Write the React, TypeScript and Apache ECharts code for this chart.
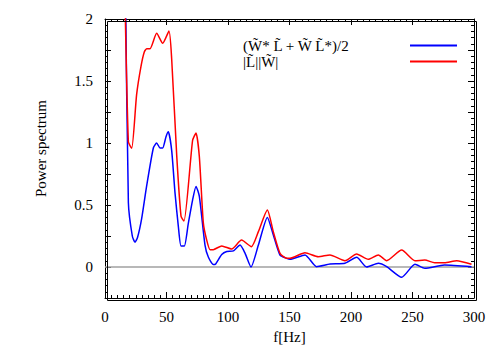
import React, { useEffect, useRef } from "react";
import * as echarts from "echarts";

const blueName = "(W\u0303* L\u0303 + W\u0303 L\u0303*)/2";
const redName = "|L\u0303||W\u0303|";

const freqBlue = [16.5, 19, 22.2, 24.4, 26.5, 29.8, 33.8, 39.3, 42, 44.7, 46.9, 49.6, 51.5, 54.2, 56.9, 59.6, 61.8, 64.5, 67.7, 71.2, 74, 76.7, 81.3, 84, 88, 90, 94.9, 99, 104.4, 109.8, 113.9, 118.7, 124.7, 132, 136.8, 142.3, 147.7, 150.4, 162.6, 172, 182.9, 195.1, 204.6, 212.7, 222.2, 229, 241.2, 252, 260, 276, 298];
const valBlue = [2.4, 0.52, 0.25, 0.2, 0.24, 0.39, 0.65, 0.96, 1.0, 0.96, 0.96, 1.05, 1.09, 0.94, 0.6, 0.33, 0.17, 0.17, 0.35, 0.54, 0.65, 0.57, 0.177, 0.08, 0.02, 0.025, 0.1, 0.125, 0.13, 0.177, 0.11, 0.0, 0.177, 0.4, 0.26, 0.096, 0.07, 0.062, 0.097, 0.003, 0.024, 0.03, 0.078, 0.0, 0.03, 0.003, -0.083, 0.022, -0.01, 0.016, 0.003];

const freqRed = [16, 19, 21.7, 25.7, 29.3, 32, 33.9, 36.6, 42, 46.9, 52, 54.2, 58.3, 61.8, 64.2, 71.2, 74, 76.7, 79.9, 82.6, 85.4, 88, 94.9, 103, 111, 119, 124.7, 132, 136.8, 142.3, 147.7, 150.4, 162.6, 173.4, 182.9, 195.1, 204.6, 214, 222.2, 229, 241.2, 252, 260, 268, 276, 286, 298];
const valRed = [2.3, 1.01, 0.957, 1.39, 1.62, 1.736, 1.76, 1.76, 1.885, 1.804, 1.903, 1.68, 0.9, 0.41, 0.37, 1.02, 1.08, 0.89, 0.36, 0.22, 0.14, 0.14, 0.17, 0.145, 0.217, 0.164, 0.285, 0.46, 0.285, 0.11, 0.07, 0.07, 0.115, 0.083, 0.097, 0.051, 0.105, 0.062, 0.097, 0.051, 0.137, 0.051, 0.056, 0.035, 0.035, 0.051, 0.022];

const yLabelValues = [0, 0.5, 1, 1.5, 2];

const font = "'Liberation Serif', 'Times New Roman', Times, serif";

export default function App() {
  const ref = useRef<HTMLDivElement>(null);
  useEffect(() => {
    if (!ref.current) return;
    const chart = echarts.init(ref.current, null, { renderer: "svg" });
    const mkX = (pos: "top" | "bottom") => ({
      type: "value",
      position: pos,
      min: 0,
      max: 300,
      interval: 50,
      axisLine: { show: true, onZero: false, lineStyle: { color: "#000", width: 1 } },
      axisTick: { show: true, inside: true, length: 6 },
      minorTick: { show: true, splitNumber: 10, length: 3 },
      splitLine: { show: false },
    });
    const mkY = (pos: "left" | "right") => ({
      type: "value",
      position: pos,
      min: -0.25,
      max: 2,
      interval: 0.25,
      axisLine: { show: true, onZero: false, lineStyle: { color: "#000", width: 1 } },
      axisTick: { show: true, inside: true, length: 6 },
      minorTick: { show: true, splitNumber: 5, length: 3 },
      splitLine: { show: false },
    });
    chart.setOption({
      animation: false,
      backgroundColor: "#fff",
      grid: { left: 105, right: 26, top: 19, bottom: 52 },
      graphic: [
        {
          type: "rect",
          left: 105,
          top: 19,
          shape: { width: 369, height: 279 },
          style: { fill: "none", stroke: "#000", lineWidth: 1 },
          silent: true,
          z: 10,
        },
      ],
      legend: {
        orient: "vertical",
        left: 238,
        top: 33,
        align: "right",
        itemWidth: 47,
        itemHeight: 2,
        itemGap: 1,
        icon: "rect",
        data: [blueName, redName],
        formatter: (n: string) => `{a|${n}}`,
        textStyle: {
          fontFamily: font,
          fontSize: 15,
          color: "#000",
          rich: { a: { width: 162, align: "left", fontFamily: font, fontSize: 15, color: "#000", lineHeight: 16 } },
        },
      },
      xAxis: [
        {
          ...mkX("bottom"),
          name: "f[Hz]",
          nameLocation: "middle",
          nameGap: 31,
          nameTextStyle: { fontFamily: font, fontSize: 15, color: "#000" },
          axisLabel: { show: true, margin: 11, fontFamily: font, fontSize: 15, color: "#000" },
        },
        { ...mkX("top"), axisLabel: { show: false } },
      ],
      yAxis: [
        {
          ...mkY("left"),
          name: "Power spectrum",
          nameLocation: "middle",
          nameGap: 57,
          nameTextStyle: { fontFamily: font, fontSize: 15, color: "#000", padding: [0, 0, 0, 20] },
          axisLabel: {
            show: true,
            margin: 12,
            fontFamily: font,
            fontSize: 15,
            color: "#000",
            formatter: (v: number) => (yLabelValues.some((t) => Math.abs(t - v) < 1e-6) ? String(v) : ""),
          },
        },
        { ...mkY("right"), axisLabel: { show: false } },
      ],
      series: [
        {
          name: "zero",
          type: "line",
          data: [[0, 0], [300, 0]],
          symbol: "none",
          lineStyle: { color: "#a0a0a0", width: 1.5 },
          silent: true,
        },
        {
          name: blueName,
          type: "line",
          data: freqBlue.map((f, i) => [f, valBlue[i]]),
          symbol: "none",
          clip: true,
          smooth: 0.2,
          itemStyle: { color: "#0000ff" },
          lineStyle: { color: "#0000ff", width: 1.5 },
        },
        {
          name: redName,
          type: "line",
          data: freqRed.map((f, i) => [f, valRed[i]]),
          symbol: "none",
          clip: true,
          smooth: 0.2,
          itemStyle: { color: "#ff0000" },
          lineStyle: { color: "#ff0000", width: 1.5 },
        },
      ],
    });
    return () => chart.dispose();
  }, []);
  return <div ref={ref} style={{ width: 500, height: 350, position: "absolute", left: 0, top: 0 }} />;
}
